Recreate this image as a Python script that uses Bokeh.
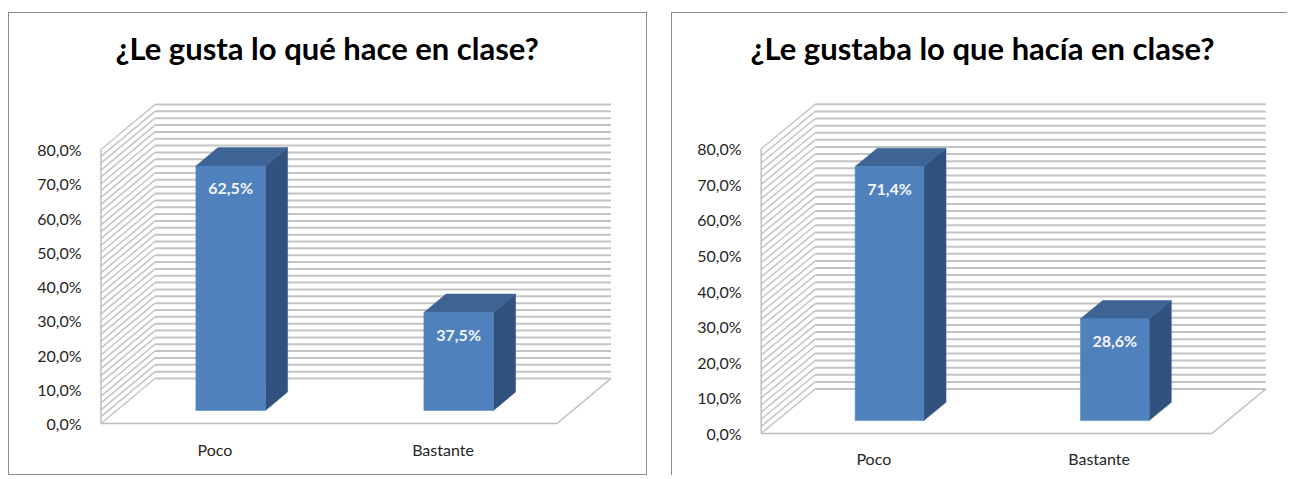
from bokeh.plotting import figure
from bokeh.layouts import row
from bokeh.models import FixedTicker, ColumnDataSource
from bokeh.core.properties import value
from bokeh.embed import file_html
from bokeh.resources import INLINE

# ---------------- data ----------------
categories = ["Poco", "Bastante"]

left_title = "¿Le gusta lo qué hace en clase?"
left_bar_values = [71.4, 28.6]          # bar heights as drawn in the picture (%)
left_bar_labels = ["62,5%", "37,5%"]    # data labels printed on the bars

right_title = "¿Le gustaba lo que hacía en clase?"
right_bar_values = [71.4, 28.6]
right_bar_labels = ["71,4%", "28,6%"]

y_ticks = [0, 10, 20, 30, 40, 50, 60, 70, 80]
y_tick_labels = ["0,0%", "10,0%", "20,0%", "30,0%", "40,0%",
                 "50,0%", "60,0%", "70,0%", "80,0%"]
grid_levels = list(range(0, 81, 2))

# ---------------- style ----------------
FONT = "Lato"
FRONT = "#4F81BD"
TOP = "#3D6494"
SIDE = "#31527E"
GRID = "#c4c4c4"
EDGE = "#bdbdbd"
BOX = "#8c8c8c"

BAR_W = 0.305      # bar width in category units
F_FRONT = 0.29     # depth fraction of the bar front
F_DEPTH = 0.41     # depth of the bar as fraction of the floor depth


def make_chart(title, values, labels, g):
    fw = g["width"] - g["fl"] - g["fr"]
    fh = g["height"] - g["ft"] - g["fb"]
    x_start = (g["fl"] - g["x0"]) / g["px_cat"]
    x_end = x_start + fw / g["px_cat"]
    y_end = (g["y0"] - g["ft"]) / g["px_pct"]
    y_start = y_end - fh / g["px_pct"]
    ddx = g["depth"][0] / g["px_cat"]
    ddy = g["depth"][1] / g["px_pct"]
    n = len(categories)

    p = figure(width=g["width"], height=g["height"], output_backend="svg",
               toolbar_location=None, x_range=(x_start, x_end),
               y_range=(y_start, y_end),
               min_border_left=g["fl"], min_border_right=g["fr"],
               min_border_top=g["ft"], min_border_bottom=g["fb"],
               title=title)
    p.title.text_font = FONT
    p.title.text_font_size = "31px"
    p.title.text_font_style = "bold"
    p.title.text_color = "#000000"
    p.title.align = "left"
    p.title.offset = g["title_off"]
    p.title.standoff = g["title_standoff"]
    p.outline_line_color = None
    p.xgrid.visible = False
    p.ygrid.visible = False
    p.background_fill_color = "white"
    p.border_fill_color = "white"

    # y axis (front plane)
    ya = p.yaxis[0]
    ya.ticker = FixedTicker(ticks=y_ticks)
    ya.major_label_overrides = {t: l for t, l in zip(y_ticks, y_tick_labels)}
    ya.axis_line_color = None
    ya.major_tick_line_color = None
    ya.minor_tick_line_color = None
    ya.major_tick_out = 0
    ya.major_tick_in = 0
    ya.minor_tick_out = 0
    ya.major_label_text_font = FONT
    ya.major_label_text_font_size = "16px"
    ya.major_label_text_color = "#262626"
    ya.major_label_standoff = g["ystand"]

    # x axis (categories)
    xa = p.xaxis[0]
    centers = [i + 0.5 for i in range(n)]
    xa.ticker = FixedTicker(ticks=centers)
    xa.major_label_overrides = {c: name for c, name in zip(centers, categories)}
    xa.axis_line_color = None
    xa.major_tick_line_color = None
    xa.minor_tick_line_color = None
    xa.major_tick_out = 0
    xa.major_tick_in = 0
    xa.minor_tick_out = 0
    xa.major_label_text_font = FONT
    xa.major_label_text_font_size = "16px"
    xa.major_label_text_color = "#262626"
    xa.major_label_standoff = g["xstand"]

    # back wall gridlines
    back_xs = [[ddx, n + ddx] for _ in grid_levels]
    back_ys = [[v + ddy, v + ddy] for v in grid_levels]
    p.multi_line(back_xs, back_ys, line_color=GRID, line_width=2)
    # side wall gridlines
    side_xs = [[0, ddx] for _ in grid_levels]
    side_ys = [[v, v + ddy] for v in grid_levels]
    p.multi_line(side_xs, side_ys, line_color=GRID, line_width=1.5)
    # walls / floor edges
    top = grid_levels[-1]
    p.multi_line([[0, 0], [0, n], [n, n + ddx]],
                 [[0, top], [0, 0], [0, ddy]],
                 line_color=EDGE, line_width=1.5)

    # bars
    fx, fy = F_FRONT * ddx, F_FRONT * ddy
    bx, by = F_DEPTH * ddx, F_DEPTH * ddy
    front_xs, front_ys, top_xs, top_ys, side_xs2, side_ys2 = [], [], [], [], [], []
    lab_x, lab_y = [], []
    for i, v in enumerate(values):
        x0 = i + 0.5 - BAR_W / 2 + fx
        x1 = x0 + BAR_W
        yb = fy
        yt = fy + v
        front_xs.append([x0, x1, x1, x0])
        front_ys.append([yb, yb, yt, yt])
        top_xs.append([x0, x1, x1 + bx, x0 + bx])
        top_ys.append([yt, yt, yt + by, yt + by])
        side_xs2.append([x1, x1 + bx, x1 + bx, x1])
        side_ys2.append([yb, yb + by, yt + by, yt])
        lab_x.append((x0 + x1) / 2)
        lab_y.append(yt)
    p.patches(side_xs2, side_ys2, fill_color=SIDE, line_color=SIDE, line_width=0.5)
    p.patches(top_xs, top_ys, fill_color=TOP, line_color=TOP, line_width=0.5)
    p.patches(front_xs, front_ys, fill_color=FRONT, line_color=FRONT, line_width=0.5)

    src = ColumnDataSource(dict(x=lab_x, y=lab_y, t=labels))
    p.text(x="x", y="y", text="t", source=src, text_font=value(FONT),
           text_font_style="bold", text_font_size="16px", text_color="#f4f6fb",
           text_align="center", text_baseline="middle", y_offset=22)
    return p


left_geom = dict(width=639, height=463, fl=82, fr=32, ft=58, fb=40,
                 x0=91.5, y0=410.0, px_cat=228.0, px_pct=3.425,
                 depth=(54.0, 45.0), ystand=10, xstand=3,
                 title_off=24, title_standoff=10)
right_geom = dict(width=616, height=463, fl=79, fr=17, ft=58, fb=40,
                  x0=88.7, y0=420.0, px_cat=225.3, px_pct=3.559,
                  depth=(54.0, 44.5), ystand=10, xstand=12,
                  title_off=-1, title_standoff=10)

p1 = make_chart(left_title, left_bar_values, left_bar_labels, left_geom)
p2 = make_chart(right_title, right_bar_values, right_bar_labels, right_geom)
p1.styles = {"border": "1px solid " + BOX}
p2.styles = {"border-left": "1px solid " + BOX, "border-top": "1px solid " + BOX}
p1.margin = (12, 0, 0, 8)
p2.margin = (12, 0, 0, 0)

layout = row(p1, p2, spacing=24)
open("out.html", "w").write(file_html(layout, INLINE))
